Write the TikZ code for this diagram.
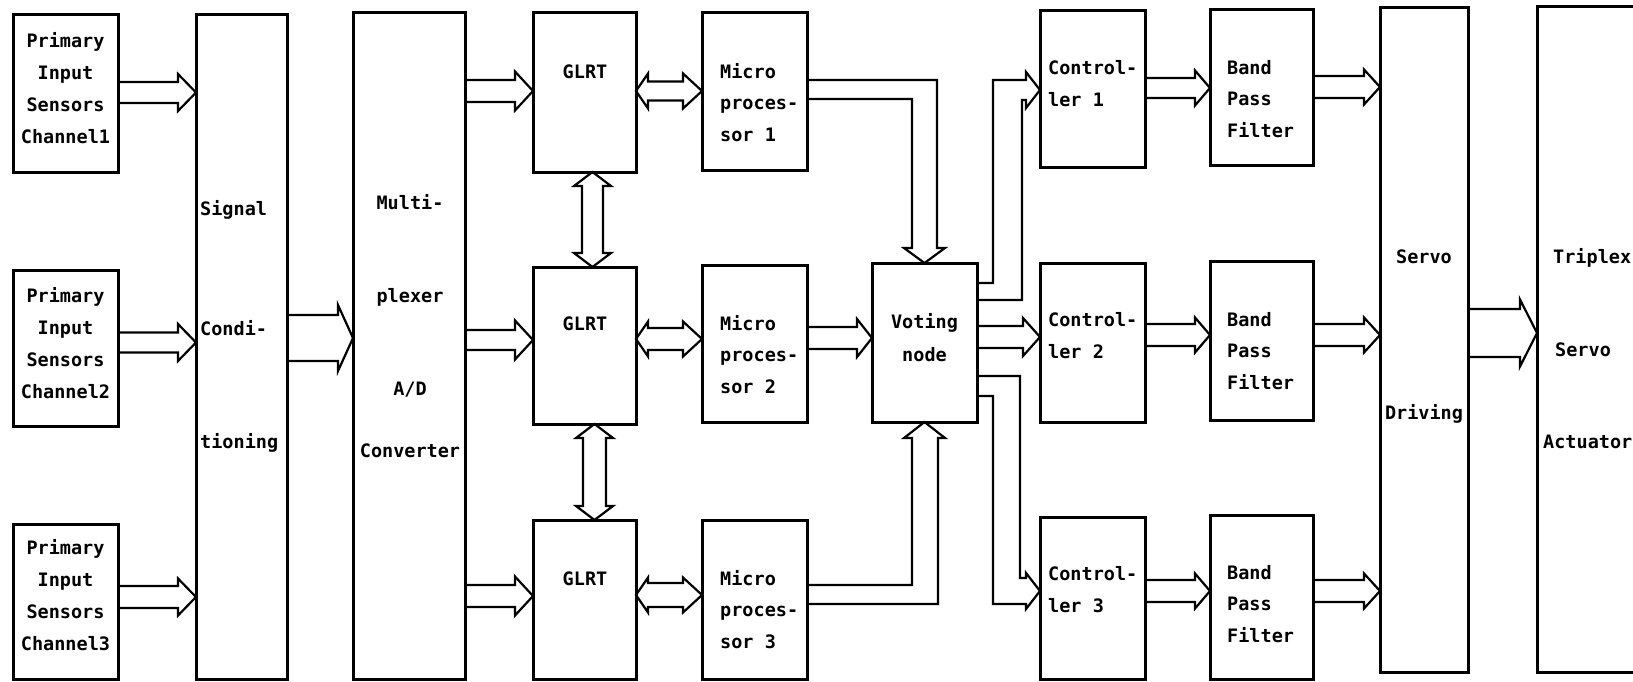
\documentclass[tikz,border=0pt]{standalone}
\usepackage{fontspec}
\newfontfamily\dm{DejaVu Sans Mono}
\usetikzlibrary{fit,calc}
\tikzset{
  box/.style={draw, line width=3pt, inner sep=0pt, outer sep=0pt},
  arr/.style={draw, line width=2.2pt, line join=miter},
  txt/.style={font=\dm\bfseries\fontsize{18.5}{22}\selectfont, inner sep=0pt},
  L/.style={txt, anchor=mid west},
  C/.style={txt, anchor=mid},
}
% horizontal hollow arrow: start node, end node, y, half shaft, half head, head length
\newcommand\harrow[6]{\draw[arr] let \p1=(#1.east |- 0,#3), \p2=(#2.west |- 0,#3) in
  (\x1,\y1+#4pt) -- (\x2-#6pt,\y1+#4pt) -- (\x2-#6pt,\y1+#5pt) -- (\x2,\y1) --
  (\x2-#6pt,\y1-#5pt) -- (\x2-#6pt,\y1-#4pt) -- (\x1,\y1-#4pt);}
% horizontal double-headed hollow arrow
\newcommand\hdarrow[7]{\draw[arr] let \p1=(#1.east |- 0,#3), \p2=(#2.west |- 0,#3) in
  (\x1+#6pt,\y1+#4pt) -- (\x2-#7pt,\y1+#4pt) -- (\x2-#7pt,\y1+#5pt) -- (\x2,\y1) --
  (\x2-#7pt,\y1-#5pt) -- (\x2-#7pt,\y1-#4pt) -- (\x1+#6pt,\y1-#4pt) --
  (\x1+#6pt,\y1-#5pt) -- (\x1,\y1) -- (\x1+#6pt,\y1+#5pt) -- cycle;}
% vertical double-headed hollow arrow: upper node, lower node, x, half shaft, half head, head length
\newcommand\vdarrow[6]{\draw[arr] let \p1=(#3,0 |- #1.south), \p2=(#3,0 |- #2.north) in
  (\x1+#4pt,\y1-#6pt) -- (\x1+#4pt,\y2+#6pt) -- (\x1+#5pt,\y2+#6pt) -- (\x1,\y2) --
  (\x1-#5pt,\y2+#6pt) -- (\x1-#4pt,\y2+#6pt) -- (\x1-#4pt,\y1-#6pt) --
  (\x1-#5pt,\y1-#6pt) -- (\x1,\y1) -- (\x1+#5pt,\y1-#6pt) -- cycle;}
\newcommand\bx[5]{\node[box, fit={(#2,#3) (#4,#5)}] (#1) {};}
\begin{document}
\begin{tikzpicture}[x=1pt,y=-1pt]
\useasboundingbox (0,0) rectangle (1633,682);
\fill[white] (0,0) rectangle (1633,682);
% boxes
\bx{p1}{13}{15}{118}{172}
\bx{p2}{13}{270}{118}{426}
\bx{p3}{13}{524}{118}{679}
\bx{sig}{196}{15}{287}{679}
\bx{mux}{353}{13}{465}{679}
\bx{g1}{533}{13}{636}{172}
\bx{g2}{533}{267}{636}{424}
\bx{g3}{533}{520}{636}{679}
\bx{m1}{702}{13}{807}{170}
\bx{m2}{702}{265}{807}{422}
\bx{m3}{702}{520}{807}{679}
\bx{vote}{872}{263}{977}{422}
\bx{c1}{1040}{11}{1145}{167}
\bx{c2}{1040}{263}{1145}{422}
\bx{c3}{1040}{517}{1145}{679}
\bx{b1}{1210}{10}{1313}{165}
\bx{b2}{1210}{261}{1313}{420}
\bx{b3}{1210}{515}{1313}{679}
\bx{servo}{1380}{8}{1468}{672}
\bx{trip}{1537}{7}{1648}{672}
% texts
\foreach \t [count=\i] in {Primary,Input,Sensors,Channel1}
  \node[C] (p1t\i) at (65.5,{45+32*(\i-1)}) {\t};
\foreach \t [count=\i] in {Primary,Input,Sensors,Channel2}
  \node[C] (p2t\i) at (65.5,{300+32*(\i-1)}) {\t};
\foreach \t [count=\i] in {Primary,Input,Sensors,Channel3}
  \node[C] (p3t\i) at (65.5,{552+32*(\i-1)}) {\t};
\node[L] (sigt1) at (200,213) {Signal};
\node[L] (sigt2) at (200,333) {Condi-};
\node[L] (sigt3) at (200,446) {tioning};
\node[C] (muxt1) at (410,207) {Multi-};
\node[C] (muxt2) at (410,300) {plexer};
\node[C] (muxt3) at (410,393) {A/D};
\node[C] (muxt4) at (410,455) {Converter};
\node[C] (g1t) at (585,76) {GLRT};
\node[C] (g2t) at (585,328) {GLRT};
\node[C] (g3t) at (585,583) {GLRT};
\foreach \r/\y in {1/76,2/328,3/583}{
  \node[L] (m\r t1) at (720,\y) {Micro};
  \node[L] (m\r t2) at (720,{\y+31.5}) {proces-};
  \node[L] (m\r t3) at (720,{\y+63}) {sor \r};
}
\node[C] (votet1) at (924.5,326) {Voting};
\node[C] (votet2) at (924.5,359) {node};
\foreach \r/\y in {1/72,2/324,3/578}{
  \node[L] (c\r t1) at (1048,\y) {Control-};
  \node[L] (c\r t2) at (1048,{\y+32.5}) {ler \r};
}
\foreach \r/\y in {1/72,2/324,3/577}{
  \node[L] (b\r t1) at (1227,\y) {Band};
  \node[L] (b\r t2) at (1227,{\y+31.5}) {Pass};
  \node[L] (b\r t3) at (1227,{\y+63}) {Filter};
}
\node[C] (servot1) at (1424,261) {Servo};
\node[C] (servot2) at (1424,417) {Driving};
\node[L] (tript1) at (1553,261) {Triplex};
\node[L] (tript2) at (1555,354) {Servo};
\node[L] (tript3) at (1543,446) {Actuator};
% straight arrows
\harrow{p1}{sig}{92.5}{10.5}{18.5}{18}
\harrow{p2}{sig}{342.5}{10}{18.5}{18}
\harrow{p3}{sig}{597}{11}{18.5}{18}
\harrow{sig}{mux}{338}{23}{33}{15}
\harrow{mux}{g1}{91}{11}{19.5}{18}
\harrow{mux}{g2}{340}{10}{19.5}{18}
\harrow{mux}{g3}{596}{11}{19.5}{18}
\hdarrow{g1}{m1}{91}{9.5}{17.5}{12}{19}
\hdarrow{g2}{m2}{339}{11}{17.5}{12}{19}
\hdarrow{g3}{m3}{595}{12}{17.5}{12}{19}
\harrow{m2}{vote}{338}{11}{19}{15}
\harrow{vote}{c2}{337}{11}{19}{17}
\harrow{c1}{b1}{88}{10}{17.5}{15}
\harrow{c2}{b2}{335}{11}{17.5}{15}
\harrow{c3}{b3}{591}{11}{17.5}{15}
\harrow{b1}{servo}{87}{11}{17.5}{16}
\harrow{b2}{servo}{335}{11}{17.5}{16}
\harrow{b3}{servo}{591}{11}{17.5}{16}
\harrow{servo}{trip}{333}{24}{33.5}{17}
\vdarrow{g1}{g2}{592.5}{10.5}{18.5}{14}
\vdarrow{g2}{g3}{594.5}{11.5}{18.5}{14}
% bent arrows
\draw[arr] (m1.east |- 0,80) -- (937,80) -- (937,248) -- (945,248) -- (vote.north)
  -- (904,248) -- (912,248) -- (912,99) -- (m1.east |- 0,99);
\draw[arr] (m3.east |- 0,585) -- (912,585) -- (912,438) -- (904,438) -- (vote.south)
  -- (945,438) -- (938,438) -- (938,604) -- (m3.east |- 0,604);
\draw[arr] (vote.east |- 0,283) -- (993,283) -- (993,80) -- (1026,80) -- (1026,72)
  -- (c1.west |- 0,90) -- (1026,108) -- (1026,100) -- (1022,100) -- (1022,300)
  -- (vote.east |- 0,300);
\draw[arr] (vote.east |- 0,376) -- (1020,376) -- (1020,578) -- (1026,578) -- (1026,573)
  -- (c3.west |- 0,591) -- (1026,609) -- (1026,604) -- (993,604) -- (993,396)
  -- (vote.east |- 0,396);
\end{tikzpicture}
\end{document}
